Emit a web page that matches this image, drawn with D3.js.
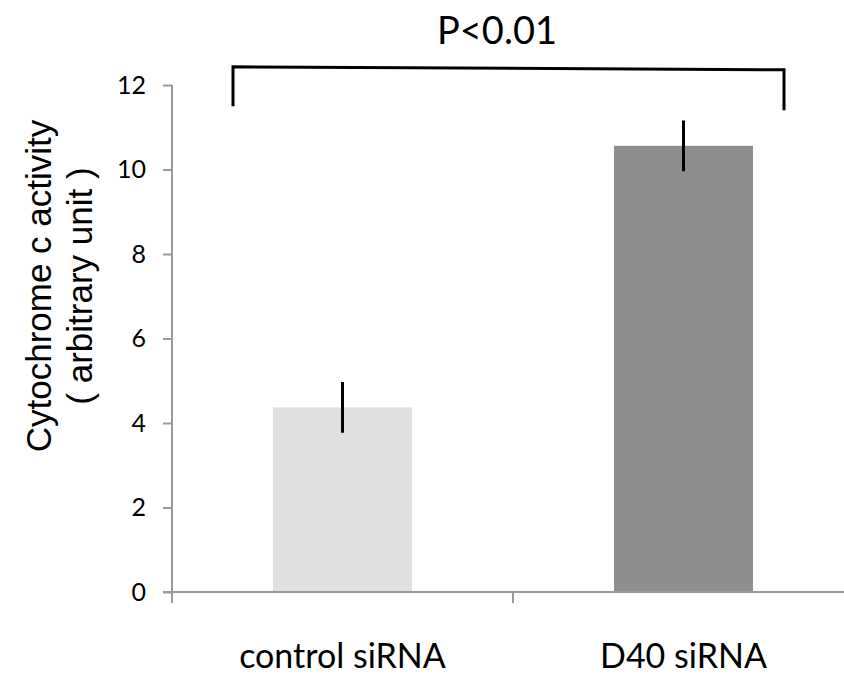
<!DOCTYPE html>
<html>
<head>
<meta charset="utf-8">
<script src="https://cdn.jsdelivr.net/npm/d3@7"></script>
<style>
  body { margin: 0; background: #fff; }
  text { font-family: Lato, "Open Sans", sans-serif; fill: #000; }
</style>
</head>
<body>
<div id="chart"></div>
<script>
	var categories = ["control siRNA", "D40 siRNA"];
	var values = [4.37, 10.56];
	var errors = [0.6, 0.6];
	var yTicks = [0, 2, 4, 6, 8, 10, 12];
	var barColors = ["#e0e0e0", "#8e8e8e"];
	var pLabel = "P<0.01";

	var width = 844, height = 677;

	var svg = d3.select("#chart").append("svg")
		.attr("width", width)
		.attr("height", height);

	var xScale = d3.scaleBand()
		.domain(categories)
		.range([172, 854])
		.paddingInner(0)
		.paddingOuter(0);

	var yScale = d3.scaleLinear()
		.domain([0, 12])
		.range([592, 85]);

	var barWidth = 139;

	// bars
	svg.selectAll("rect.bar")
		.data(values)
		.enter().append("rect")
		.attr("class", "bar")
		.attr("x", function (d, i) { return xScale(categories[i]) + xScale.bandwidth() / 2 - barWidth / 2; })
		.attr("y", function (d) { return yScale(d); })
		.attr("width", barWidth)
		.attr("height", function (d) { return yScale(0) - yScale(d); })
		.attr("fill", function (d, i) { return barColors[i]; });

	// y axis
	var yAxis = svg.append("g")
		.attr("transform", "translate(172,0)")
		.call(d3.axisLeft(yScale).tickValues(yTicks).tickSize(9).tickPadding(17).tickFormat(d3.format("d")));
	yAxis.selectAll("line, path").attr("stroke", "#999").attr("stroke-width", 2);
	yAxis.select("path").attr("d", "M0," + yScale(12) + "V" + yScale(0));
	yAxis.selectAll("text").style("font-size", "25px").attr("fill", "#000");

	// x axis
	var xAxis = svg.append("g")
		.attr("transform", "translate(0," + yScale(0) + ")");
	xAxis.append("line")
		.attr("x1", 163).attr("x2", width)
		.attr("stroke", "#999").attr("stroke-width", 2);
	xAxis.selectAll("line.tick")
		.data([172, xScale(categories[1])])
		.enter().append("line")
		.attr("class", "tick")
		.attr("x1", function (d) { return d; })
		.attr("x2", function (d) { return d; })
		.attr("y1", 0).attr("y2", 11)
		.attr("stroke", "#999").attr("stroke-width", 2);
	xAxis.selectAll("text")
		.data(categories)
		.enter().append("text")
		.attr("x", function (d) { return xScale(d) + xScale.bandwidth() / 2; })
		.attr("y", 76)
		.attr("text-anchor", "middle")
		.style("font-size", "34px")
		.text(function (d) { return d; });

	// error bars
	svg.selectAll("line.err")
		.data(values)
		.enter().append("line")
		.attr("class", "err")
		.attr("x1", function (d, i) { return xScale(categories[i]) + xScale.bandwidth() / 2; })
		.attr("x2", function (d, i) { return xScale(categories[i]) + xScale.bandwidth() / 2; })
		.attr("y1", function (d, i) { return yScale(d + errors[i]); })
		.attr("y2", function (d, i) { return yScale(d - errors[i]); })
		.attr("stroke", "#000")
		.attr("stroke-width", 3);

	// y title
	var yTitle = svg.append("text")
		.attr("transform", "translate(51,286)rotate(-90)")
		.attr("text-anchor", "middle")
		.style("font-family", "'Liberation Sans', Arial, sans-serif")
		.style("font-size", "35px");
	yTitle.append("tspan").attr("x", 0).attr("y", 0).text("Cytochrome c activity");
	yTitle.append("tspan").attr("x", 0).attr("y", 41).text("( arbitrary unit )");

	// significance bracket
	var bx1 = 233, bx2 = 784;
	svg.append("path")
		.attr("d", "M" + bx1 + "," + yScale(11.5) + "V" + yScale(12.43) + "L" + bx2 + "," + yScale(12.36) + "V" + yScale(11.4))
		.attr("fill", "none")
		.attr("stroke", "#000")
		.attr("stroke-width", 3);

	svg.append("text")
		.attr("x", 497)
		.attr("y", 44)
		.attr("text-anchor", "middle")
		.style("font-size", "38px")
		.text(pLabel);
</script>
</body>
</html>
